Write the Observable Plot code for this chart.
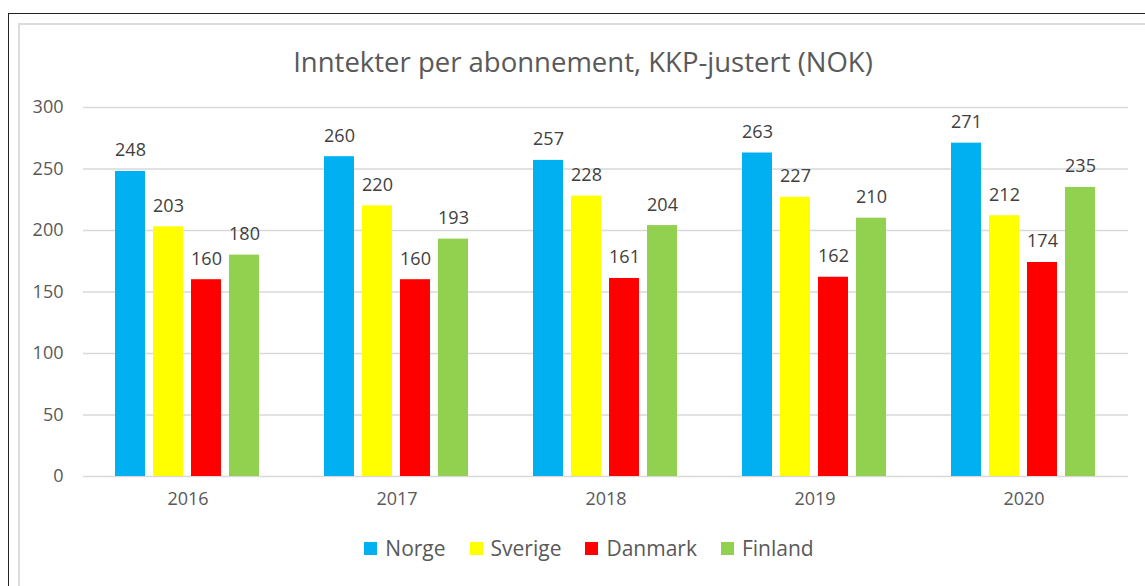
<!DOCTYPE html>
<html>
<head>
<meta charset="utf-8">
<script src="https://cdn.jsdelivr.net/npm/d3@7"></script>
<script src="https://cdn.jsdelivr.net/npm/@observablehq/plot@0.6"></script>
<style>
  html, body { margin: 0; padding: 0; background: #fff; overflow: hidden; width: 1145px; height: 586px; }
  #wrap { position: relative; width: 1145px; height: 586px; font-family: "Open Sans", sans-serif; }
  #chart { position: absolute; left: 0; top: 0; }
  #outer { position: absolute; left: 8px; top: 13px; width: 1300px; height: 700px; border-top: 1.5px solid #222; border-left: 1.5px solid #222; z-index: 5; }
  #inner { position: absolute; left: 18px; top: 23px; width: 1300px; height: 700px; border-top: 2px solid #dcdcdc; border-left: 2px solid #dcdcdc; z-index: 5; }
  #title { position: absolute; left: 0; width: 1166px; top: 43px; text-align: center; font-size: 27.5px; color: #595959; z-index: 6; }
  #legend { position: absolute; left: 0; width: 1178px; top: 534px; display: flex; justify-content: center; gap: 24px; font-size: 21px; color: #595959; z-index: 6; }
  .item { display: flex; align-items: center; gap: 8px; }
  .sw { width: 13px; height: 13px; display: inline-block; }
</style>
</head>
<body>
<div id="wrap">
  <div id="outer"></div>
  <div id="inner"></div>
  <div id="title"></div>
  <div id="chart"></div>
  <div id="legend"></div>
</div>
<script>
const title = "Inntekter per abonnement, KKP-justert (NOK)";
const years = ["2016", "2017", "2018", "2019", "2020"];
const countries = ["Norge", "Sverige", "Danmark", "Finland"];
const colors = ["#00b0f0", "#ffff00", "#ff0000", "#92d050"];
const norge   = [248, 260, 257, 263, 271];
const sverige = [203, 220, 228, 227, 212];
const danmark = [160, 160, 161, 162, 174];
const finland = [180, 193, 204, 210, 235];
const yTicks = [0, 50, 100, 150, 200, 250, 300];

const series = [norge, sverige, danmark, finland];
const data = [];
years.forEach((yr, i) => {
  countries.forEach((c, j) => {
    data.push({year: yr, country: c, value: series[j][i]});
  });
});

document.getElementById("title").textContent = title;

const chart = Plot.plot({
  width: 1145,
  height: 586,
  marginTop: 107,
  marginBottom: 110,
  marginLeft: 83,
  marginRight: 17,
  style: {fontFamily: "Open Sans, sans-serif", fontSize: "18px", color: "#595959", background: "transparent"},
  fx: {domain: years, padding: 0, axis: "bottom", label: null, tickSize: 0, tickPadding: 16},
  x: {domain: countries, paddingInner: 0.21, paddingOuter: 0.855, axis: null},
  y: {domain: [0, 300], ticks: yTicks, label: null, tickSize: 0, tickPadding: 20},
  color: {domain: countries, range: colors},
  marks: [
    Plot.gridY(yTicks, {stroke: "#d9d9d9", strokeOpacity: 1, strokeWidth: 1.5}),
    Plot.barY(data, {fx: "year", x: "country", y: "value", fill: "country"}),
    Plot.text(data, {fx: "year", x: "country", y: "value", text: d => String(d.value), lineAnchor: "bottom", dy: -15, fill: "#404040", fontSize: 18})
  ]
});
document.getElementById("chart").appendChild(chart);

const legend = document.getElementById("legend");
countries.forEach((c, i) => {
  const it = document.createElement("div");
  it.className = "item";
  const sw = document.createElement("span");
  sw.className = "sw";
  sw.style.background = colors[i];
  const t = document.createElement("span");
  t.textContent = c;
  it.appendChild(sw);
  it.appendChild(t);
  legend.appendChild(it);
});
</script>
</body>
</html>
